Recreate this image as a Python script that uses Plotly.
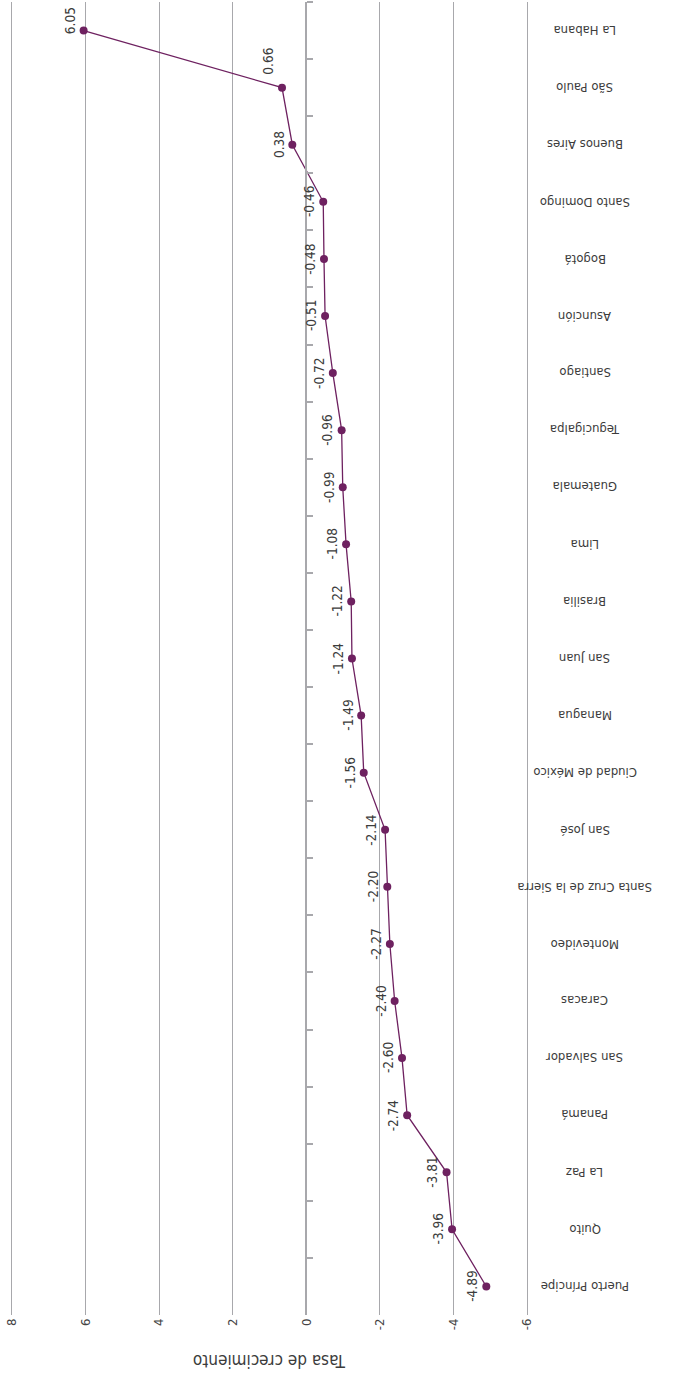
import plotly.graph_objects as go

# Tasa de crecimiento por ciudad (de arriba hacia abajo)
ciudades = [
    "La Habana", "São Paulo", "Buenos Aires", "Santo Domingo", "Bogotá",
    "Asunción", "Santiago", "Tegucigalpa", "Guatemala", "Lima", "Brasilia",
    "San Juan", "Managua", "Ciudad de México", "San José",
    "Santa Cruz de la Sierra", "Montevideo", "Caracas", "San Salvador",
    "Panamá", "La Paz", "Quito", "Puerto Príncipe",
]
tasas = [
    6.05, 0.66, 0.38, -0.46, -0.48, -0.51, -0.72, -0.96, -0.99, -1.08,
    -1.22, -1.24, -1.49, -1.56, -2.14, -2.20, -2.27, -2.40, -2.60, -2.74,
    -3.81, -3.96, -4.89,
]
valores_eje = [8, 6, 4, 2, 0, -2, -4, -6]
etiquetas_eje = ["8", "6", "4", "2", "0", "-2", "-4", "-6"]
titulo_eje = "Tasa de crecimiento"

W, H = 674, 1377
ML, MR, MT, MB = 10, 145, 2, 62
X_RANGE = [8.05, -6.05]
PURPLE = "#6e2160"
GRID = "#a8a8ac"
COND = "DejaVu Sans Condensed, Roboto, sans-serif"
TEXT = "#3c3c3c"

# small vertical nudges (px) for labels that would sit on the line
label_nudge = {"La Habana": 10, "São Paulo": 26}

zero_pos = (X_RANGE[0] - 0) / (X_RANGE[0] - X_RANGE[1])
plot_w = W - ML - MR
label_x_paper = (585 - ML) / plot_w

fig = go.Figure()
fig.add_trace(go.Scatter(
    x=tasas, y=ciudades, mode="lines+markers",
    line=dict(color=PURPLE, width=1.3),
    marker=dict(color=PURPLE, size=8),
    hoverinfo="skip", showlegend=False,
))

annotations = []
for c, v in zip(ciudades, tasas):
    annotations.append(dict(
        x=v, y=c, xref="x", yref="y", text=f"{v:.2f}",
        textangle=-90, xanchor="right", yanchor="middle", xshift=-4,
        yshift=label_nudge.get(c, 0),
        showarrow=False, font=dict(family=COND, size=13.5, color=TEXT),
    ))
for c in ciudades:
    annotations.append(dict(
        x=label_x_paper, y=c, xref="paper", yref="y", text=c,
        textangle=180, xanchor="center", yanchor="middle",
        showarrow=False, font=dict(family=COND, size=13, color=TEXT),
    ))
annotations.append(dict(
    x=1, y=-(1361 - (H - MB)) / (H - MT - MB), xref="x", yref="paper",
    text=titulo_eje, textangle=180, xanchor="center", yanchor="middle",
    showarrow=False, font=dict(family=COND, size=17, color=TEXT),
))

fig.update_layout(
    width=W, height=H, margin=dict(l=ML, r=MR, t=MT, b=MB),
    paper_bgcolor="white", plot_bgcolor="white", template="none",
    annotations=annotations,
    xaxis=dict(
        range=X_RANGE, tickmode="array", tickvals=valores_eje,
        ticktext=etiquetas_eje, tickangle=-90, showgrid=True,
        gridcolor=GRID, gridwidth=1.2, zeroline=False, showline=False,
        ticks="", tickfont=dict(family=COND, size=13, color="#444"),
    ),
    yaxis=dict(
        type="category", categoryorder="array", categoryarray=ciudades,
        range=[len(ciudades) - 0.5, -0.5], anchor="free", position=zero_pos,
        side="right", showline=True, linecolor=GRID, linewidth=1.5,
        ticks="outside", ticklen=6, tickcolor=GRID, tickwidth=1.5,
        tickson="boundaries", showticklabels=False, showgrid=False,
        zeroline=False,
    ),
)

fig.write_html("out.html")
